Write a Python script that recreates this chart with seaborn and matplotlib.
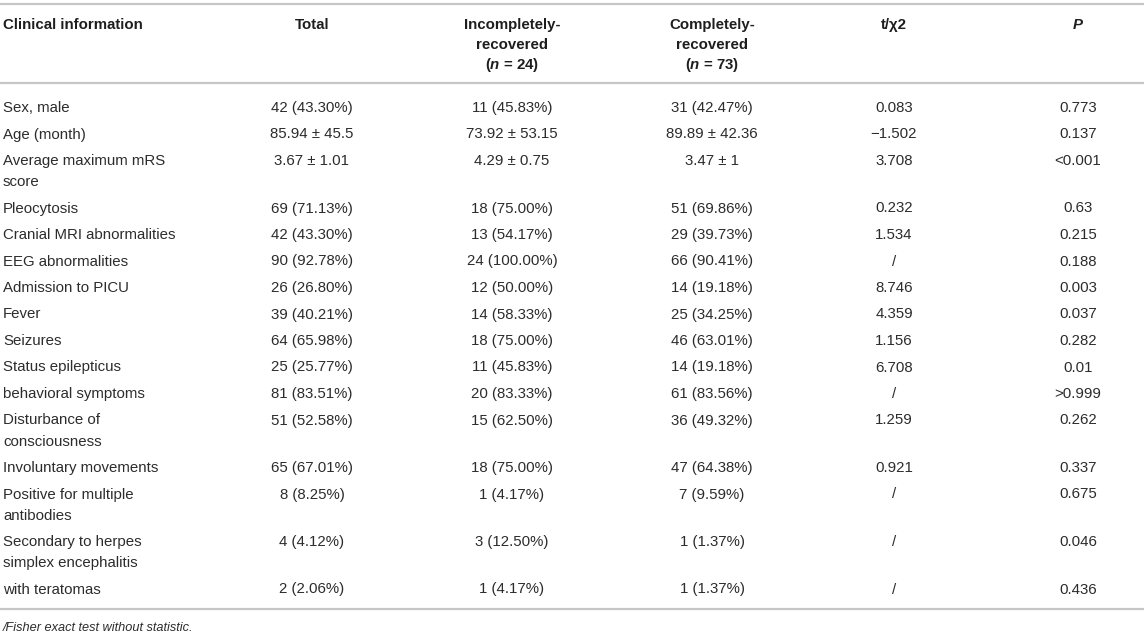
import matplotlib
matplotlib.use("Agg")
import matplotlib.pyplot as plt
import seaborn as sns

# table content
header_cols = ["Clinical information", "Total",
               "Incompletely-\nrecovered\n($\\it{n}$ = 24)",
               "Completely-\nrecovered\n($\\it{n}$ = 73)",
               "t/\u03c72", "$\\it{P}$"]

labels = ["Sex, male", "Age (month)", "Average maximum mRS\nscore", "Pleocytosis",
          "Cranial MRI abnormalities", "EEG abnormalities", "Admission to PICU",
          "Fever", "Seizures", "Status epilepticus", "behavioral symptoms",
          "Disturbance of\nconsciousness", "Involuntary movements",
          "Positive for multiple\nantibodies", "Secondary to herpes\nsimplex encephalitis",
          "with teratomas"]
total = ["42 (43.30%)", "85.94 \u00b1 45.5", "3.67 \u00b1 1.01", "69 (71.13%)", "42 (43.30%)",
         "90 (92.78%)", "26 (26.80%)", "39 (40.21%)", "64 (65.98%)", "25 (25.77%)",
         "81 (83.51%)", "51 (52.58%)", "65 (67.01%)", "8 (8.25%)", "4 (4.12%)", "2 (2.06%)"]
incomplete = ["11 (45.83%)", "73.92 \u00b1 53.15", "4.29 \u00b1 0.75", "18 (75.00%)", "13 (54.17%)",
              "24 (100.00%)", "12 (50.00%)", "14 (58.33%)", "18 (75.00%)", "11 (45.83%)",
              "20 (83.33%)", "15 (62.50%)", "18 (75.00%)", "1 (4.17%)", "3 (12.50%)", "1 (4.17%)"]
complete = ["31 (42.47%)", "89.89 \u00b1 42.36", "3.47 \u00b1 1", "51 (69.86%)", "29 (39.73%)",
            "66 (90.41%)", "14 (19.18%)", "25 (34.25%)", "46 (63.01%)", "14 (19.18%)",
            "61 (83.56%)", "36 (49.32%)", "47 (64.38%)", "7 (9.59%)", "1 (1.37%)", "1 (1.37%)"]
stat = ["0.083", "\u22121.502", "3.708", "0.232", "1.534", "/", "8.746", "4.359",
        "1.156", "6.708", "/", "1.259", "0.921", "/", "/", "/"]
pvals = ["0.773", "0.137", "<0.001", "0.63", "0.215", "0.188", "0.003", "0.037",
         "0.282", "0.01", ">0.999", "0.262", "0.337", "0.675", "0.046", "0.436"]
footnote = "/Fisher exact test without statistic."

sns.set_theme(style="white")
plt.rcParams["font.family"] = ["Liberation Sans", "DejaVu Sans"]
plt.rcParams["mathtext.fontset"] = "custom"
plt.rcParams["mathtext.it"] = "Liberation Sans:italic:bold"
plt.rcParams["mathtext.rm"] = "Liberation Sans:bold"

W, H = 1144, 636
fig = plt.figure(figsize=(W / 100, H / 100), dpi=100)
ax = fig.add_axes([0, 0, 1, 1])
ax.set_xlim(0, W)
ax.set_ylim(H, 0)
ax.axis("off")

txt = "#2c2c2c"
line_c = "#c6c6c6"
fs = 10.8
col_x = [3, 312, 512, 712, 894, 1078]

# horizontal rules
for y in [4, 83, 609]:
    ax.axhline(y, color=line_c, lw=1.6)

# header
for i, h in enumerate(header_cols):
    for k, part in enumerate(h.split("\n")):
        ax.text(col_x[i], 25 + 20 * k, part, ha="left" if i == 0 else "center",
                va="center", fontsize=fs, fontweight="bold", color="#1e1e1e")

# body rows
y = 108
columns = [total, incomplete, complete, stat, pvals]
for r in range(len(labels)):
    parts = labels[r].split("\n")
    for k, part in enumerate(parts):
        ax.text(col_x[0], y + 21 * k, part, ha="left", va="center", fontsize=fs, color=txt)
    for i, col in enumerate(columns):
        ax.text(col_x[i + 1], y, col[r], ha="center", va="center", fontsize=fs, color=txt)
    y += 26.5 + 21 * (len(parts) - 1)

ax.text(3, 628, footnote, ha="left", va="center", fontsize=9.2, style="italic", color=txt)

fig.savefig("out.png", dpi=100)
